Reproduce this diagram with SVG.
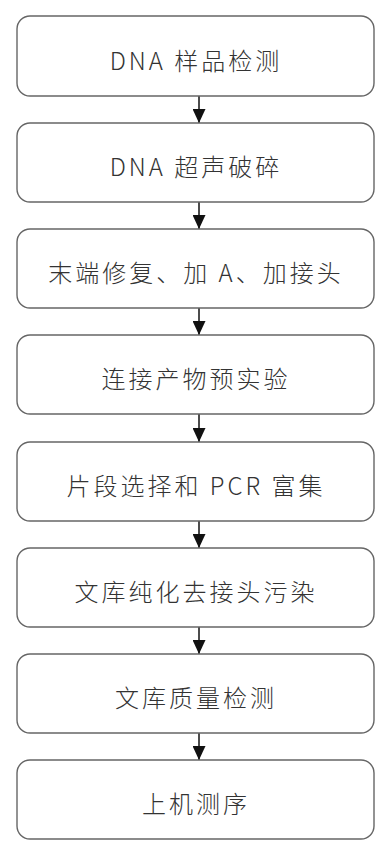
<svg xmlns="http://www.w3.org/2000/svg" width="389" height="859" viewBox="0 0 389 859">
<defs>
<style>
.box{fill:#fff;stroke:#666;stroke-width:1.4}
.t{font-family:"Noto Sans CJK SC","Noto Sans",sans-serif;font-size:24px;font-weight:300;fill:#333;text-anchor:middle;dominant-baseline:central;letter-spacing:3px}
.c{stroke:#111;stroke-width:1.5;fill:none}
</style>
<marker id="ah" markerWidth="14" markerHeight="13" refX="14" refY="6.5" orient="auto" markerUnits="userSpaceOnUse">
<path d="M0,0 L14,6.5 L0,13 Z" fill="#111"/>
</marker>
</defs>
<rect width="389" height="859" fill="#fff"/>
<g id="connectors">
<line class="c" x1="199" y1="96" x2="199" y2="123" marker-end="url(#ah)"/>
<line class="c" x1="199" y1="202" x2="199" y2="229" marker-end="url(#ah)"/>
<line class="c" x1="199" y1="308" x2="199" y2="335" marker-end="url(#ah)"/>
<line class="c" x1="199" y1="414" x2="199" y2="442" marker-end="url(#ah)"/>
<line class="c" x1="199" y1="521" x2="199" y2="548" marker-end="url(#ah)"/>
<line class="c" x1="199" y1="627" x2="199" y2="654" marker-end="url(#ah)"/>
<line class="c" x1="199" y1="733" x2="199" y2="760" marker-end="url(#ah)"/>
</g>
<g id="n1"><rect class="box" x="17" y="16" width="357" height="80" rx="13"/><text class="t" x="196" y="59">DNA 样品检测</text></g>
<g id="n2"><rect class="box" x="17" y="123" width="357" height="79" rx="13"/><text class="t" x="196" y="165">DNA 超声破碎</text></g>
<g id="n3"><rect class="box" x="17" y="229" width="357" height="79" rx="13"/><text class="t" x="196" y="271">末端修复、加 A、加接头</text></g>
<g id="n4"><rect class="box" x="17" y="335" width="357" height="79" rx="13"/><text class="t" x="196" y="377">连接产物预实验</text></g>
<g id="n5"><rect class="box" x="17" y="442" width="357" height="79" rx="13"/><text class="t" x="196" y="484">片段选择和 PCR 富集</text></g>
<g id="n6"><rect class="box" x="17" y="548" width="357" height="79" rx="13"/><text class="t" x="196" y="590">文库纯化去接头污染</text></g>
<g id="n7"><rect class="box" x="17" y="654" width="357" height="79" rx="13"/><text class="t" x="196" y="696">文库质量检测</text></g>
<g id="n8"><rect class="box" x="17" y="760" width="357" height="79" rx="13"/><text class="t" x="196" y="802">上机测序</text></g>
</svg>
